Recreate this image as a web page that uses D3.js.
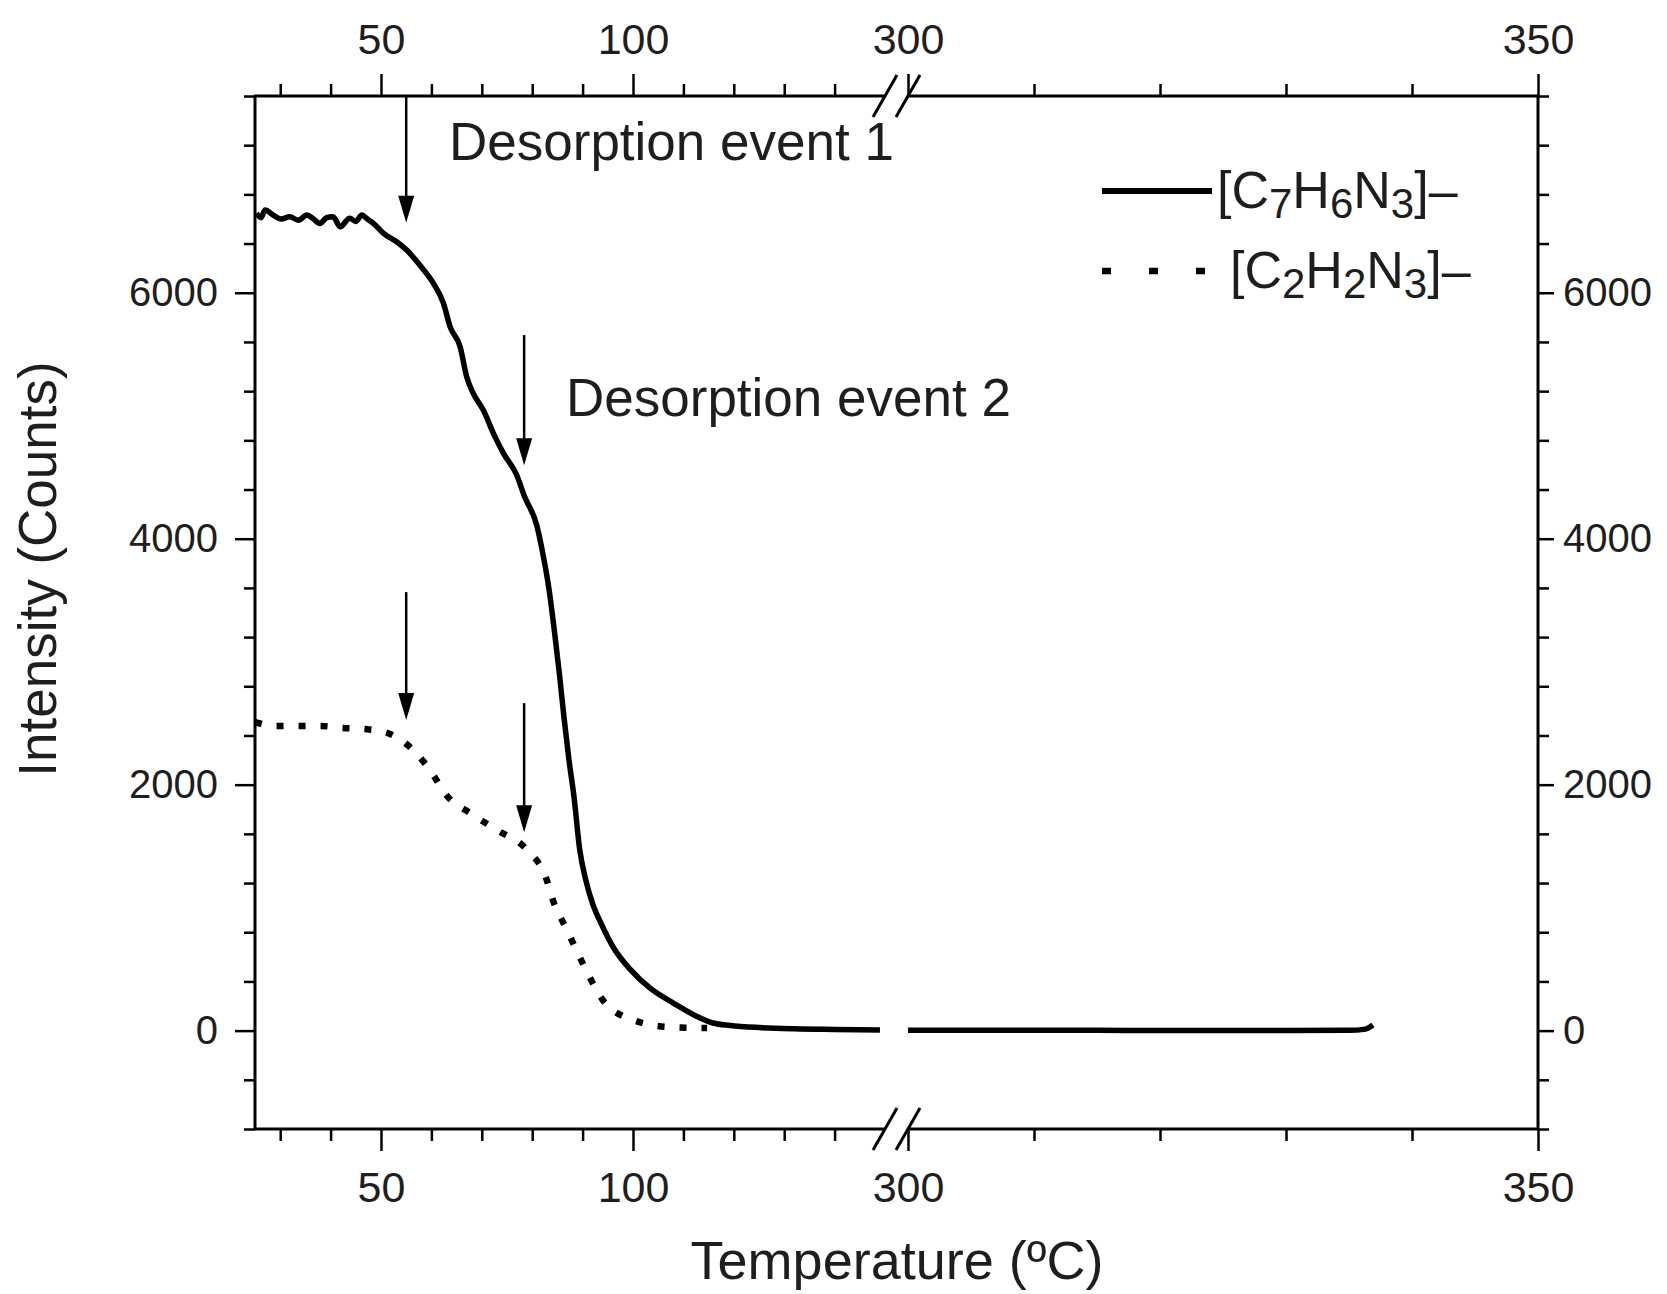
<!DOCTYPE html>
<html>
<head>
<meta charset="utf-8">
<script src="https://cdn.jsdelivr.net/npm/d3@7"></script>
<style>
body { margin: 0; background: #fff; }
text { font-family: "Liberation Sans", Arial, sans-serif; fill: #1e1e1e; }
</style>
</head>
<body>
<svg id="chart"></svg>
<script>
// data
var xBreakDomain = [25, 150, 300, 350];
var xMajor = [50, 100, 300, 350];
var xMinor = [30, 40, 60, 70, 80, 90, 110, 120, 130, 140, 310, 320, 330, 340];
var yMajor = [0, 2000, 4000, 6000];
var yMinor = [-800, -400, 400, 800, 1200, 1600, 2400, 2800, 3200, 3600, 4400, 4800, 5200, 5600, 6400, 6800, 7200, 7600];

// [C7H6N3]- , low temperature part and high temperature part
var c7Temp = [25.3, 26.2, 27.0, 28.6, 30.2, 31.9, 33.6, 35.3, 36.6, 37.9, 39.2, 40.5, 41.9, 43.8, 45.0, 46.2, 47.3, 48.5,
    50.5, 53.1, 55.1, 57.7, 60.4, 62.4, 63.7, 65.7, 67.0, 68.3, 70.3, 72.3, 74.3, 76.9, 78.5, 80.9, 82.2, 83.3, 84.4,
    85.4, 86.3, 87.3, 88.3, 89.4, 90.6, 92.0, 93.8, 96.2, 99.4, 103.4, 108.0, 112.7, 115.9, 119.3, 125, 132, 140, 149];
var c7Counts = [6646, 6610, 6673, 6632, 6600, 6618, 6590, 6632, 6600, 6564, 6610, 6618, 6537, 6605, 6580, 6632, 6600, 6564,
    6483, 6415, 6347, 6225, 6077, 5914, 5724, 5561, 5317, 5182, 5046, 4857, 4694, 4520, 4341, 4110, 3860, 3600, 3250,
    2900, 2550, 2200, 1900, 1480, 1230, 1030, 860, 670, 500, 345, 224, 115, 62, 42, 25, 15, 10, 6];
var c7Temp2 = [300, 305, 310, 315, 320, 325, 330, 335, 336.3, 336.9];
var c7Counts2 = [4, 3, 2, 2, 1, 1, 1, 2, 12, 45];

// [C2H2N3]-
var c2Temp = [25.0, 29.0, 33.5, 37.9, 42.5, 46.9, 51.3, 54.8, 59.3, 63.3, 67.7, 73.0, 79.0, 82.9, 83.9, 86.9, 90.5, 94.0, 100.0, 107.3, 114.7];
var c2Counts = [2509, 2477, 2477, 2477, 2461, 2452, 2420, 2338, 2143, 1899, 1769, 1631, 1468, 1224, 1086, 818, 509, 249, 86, 29, 21];

// desorption arrows: temperature, start and tip in counts
var arrowTemp = [55.0, 78.4, 55.0, 78.4];
var arrowFrom = [7600, 5656, 3566, 2663];
var arrowTo = [6570, 4598, 2526, 1614];

var width = 1667;
var height = 1294;
var plotLeft = 255, plotRight = 1538, plotTop = 96, plotBottom = 1129;

var svg = d3.select("#chart").attr("width", width).attr("height", height);

// broken x axis: two linear pieces
var x = d3.scaleLinear()
    .domain(xBreakDomain)
    .range([plotLeft, 885, 908, plotRight]);
var y = d3.scaleLinear()
    .domain([-800, 7600])
    .range([plotBottom, plotTop]);

function zip(t, c) {
    return t.map(function (d, i) { return {t: d, c: c[i]}; });
}

var line = d3.line()
    .x(function (d) { return x(d.t); })
    .y(function (d) { return y(d.c); })
    .curve(d3.curveMonotoneX);

// curves
[zip(c7Temp, c7Counts), zip(c7Temp2, c7Counts2)].forEach(function (part) {
    svg.append("path")
        .datum(part)
        .attr("d", line)
        .attr("fill", "none")
        .attr("stroke", "#000")
        .attr("stroke-width", 5.5)
        .attr("stroke-linejoin", "round");
});
svg.append("path")
    .datum(zip(c2Temp, c2Counts))
    .attr("d", line)
    .attr("fill", "none")
    .attr("stroke", "#000")
    .attr("stroke-width", 6.5)
    .attr("stroke-dasharray", "7,15");

// axes, ticks drawn by d3, axis lines drawn by hand because of the break
function noDomain(g) { g.select(".domain").remove(); }

function xAxes(gen, yPos) {
    svg.append("g")
        .attr("transform", "translate(0," + yPos + ")")
        .call(gen(x).tickValues(xMinor).tickSize(12).tickFormat(""))
        .call(noDomain);
    svg.append("g")
        .attr("class", "xmajor")
        .attr("transform", "translate(0," + yPos + ")")
        .call(gen(x).tickValues(xMajor).tickSize(22).tickPadding(20).tickFormat(d3.format("d")))
        .call(noDomain);
}
xAxes(d3.axisTop, plotTop);
xAxes(d3.axisBottom, plotBottom);

function yAxes(gen, xPos, size, pad) {
    svg.append("g")
        .attr("transform", "translate(" + xPos + ",0)")
        .call(gen(y).tickValues(yMinor).tickSize(11).tickFormat(""))
        .call(noDomain);
    svg.append("g")
        .attr("class", "ymajor")
        .attr("transform", "translate(" + xPos + ",0)")
        .call(gen(y).tickValues(yMajor).tickSize(size).tickPadding(pad).tickFormat(d3.format("d")))
        .call(noDomain);
}
yAxes(d3.axisLeft, plotLeft, 20, 17);
yAxes(d3.axisRight, plotRight, 16, 9);

svg.selectAll(".tick line").attr("stroke", "#000").attr("stroke-width", 2.5);
svg.selectAll(".xmajor .tick text").style("font-size", "43px").attr("fill", "#1e1e1e");
svg.selectAll(".ymajor .tick text").style("font-size", "40px").attr("fill", "#1e1e1e");

// frame with gaps at the break
[plotTop, plotBottom].forEach(function (yy) {
    svg.append("line").attr("x1", plotLeft - 1).attr("x2", x(150)).attr("y1", yy).attr("y2", yy)
        .attr("stroke", "#000").attr("stroke-width", 3);
    svg.append("line").attr("x1", x(300)).attr("x2", plotRight + 1).attr("y1", yy).attr("y2", yy)
        .attr("stroke", "#000").attr("stroke-width", 3);
    [150, 300].forEach(function (t) {
        svg.append("line")
            .attr("x1", x(t) - 12).attr("y1", yy + 21)
            .attr("x2", x(t) + 12).attr("y2", yy - 21)
            .attr("stroke", "#000").attr("stroke-width", 3);
    });
});
[plotLeft, plotRight].forEach(function (xx) {
    svg.append("line").attr("x1", xx).attr("x2", xx).attr("y1", plotTop).attr("y2", plotBottom)
        .attr("stroke", "#000").attr("stroke-width", 3);
});

// arrows
arrowTemp.forEach(function (t, i) {
    var ax = x(t), y0 = y(arrowFrom[i]), y1 = y(arrowTo[i]);
    svg.append("line").attr("x1", ax).attr("x2", ax).attr("y1", y0).attr("y2", y1 - 20)
        .attr("stroke", "#000").attr("stroke-width", 2.5);
    svg.append("path")
        .attr("d", "M" + (ax - 8) + "," + (y1 - 27) + "L" + (ax + 8) + "," + (y1 - 27) + "L" + ax + "," + y1 + "Z")
        .attr("fill", "#000");
});

// annotations
svg.append("text").attr("x", 449).attr("y", 160).style("font-size", "53px").text("Desorption event 1");
svg.append("text").attr("x", 566).attr("y", 416).style("font-size", "53px").text("Desorption event 2");

// legend
function formula(xPos, yPos, parts) {
    var t = svg.append("text").attr("x", xPos).attr("y", yPos).style("font-size", "52px");
    var low = false;
    parts.forEach(function (p) {
        var sp = t.append("tspan").text(p.s);
        if (p.sub) {
            sp.style("font-size", "42px");
            if (!low) sp.attr("dy", 10);
            low = true;
        } else if (low) {
            sp.attr("dy", -10);
            low = false;
        }
    });
}
svg.append("line").attr("x1", 1102).attr("x2", 1212).attr("y1", 191).attr("y2", 191)
    .attr("stroke", "#000").attr("stroke-width", 6);
formula(1217, 208, [{s: "[C"}, {s: "7", sub: true}, {s: "H"}, {s: "6", sub: true}, {s: "N"}, {s: "3", sub: true}, {s: "]\u2013"}]);
svg.append("line").attr("x1", 1102).attr("x2", 1212).attr("y1", 271).attr("y2", 271)
    .attr("stroke", "#000").attr("stroke-width", 6.5).attr("stroke-dasharray", "9,38");
formula(1230, 288, [{s: "[C"}, {s: "2", sub: true}, {s: "H"}, {s: "2", sub: true}, {s: "N"}, {s: "3", sub: true}, {s: "]\u2013"}]);

// axis titles
svg.append("text")
    .attr("x", 897).attr("y", 1279)
    .attr("text-anchor", "middle")
    .style("font-size", "54px")
    .text("Temperature (\u00baC)");
svg.append("text")
    .attr("transform", "translate(56,569) rotate(-90)")
    .attr("text-anchor", "middle")
    .style("font-size", "53px")
    .text("Intensity (Counts)");
</script>
</body>
</html>
